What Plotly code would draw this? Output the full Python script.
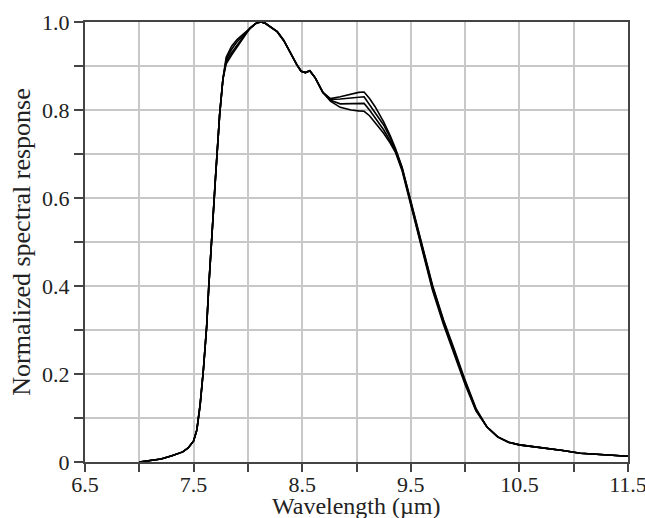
import plotly.graph_objects as go

# wavelength samples (um), shared by all detector curves
wavelength = [7.0, 7.1, 7.2, 7.3, 7.4, 7.45, 7.5, 7.53, 7.56, 7.59, 7.62, 7.64, 7.66,
              7.68, 7.70, 7.72, 7.74, 7.77, 7.80, 7.85, 7.90, 7.96, 8.02, 8.08, 8.12,
              8.16, 8.2, 8.27, 8.33, 8.39, 8.45, 8.49, 8.53, 8.57, 8.62, 8.69, 8.76,
              8.85, 8.95, 9.02, 9.07, 9.12, 9.17, 9.25, 9.31, 9.36, 9.42, 9.5, 9.6,
              9.7, 9.8, 9.9, 10.0, 10.1, 10.2, 10.3, 10.4, 10.5, 10.6, 10.75, 10.9,
              11.06, 11.2, 11.35, 11.5]

response_a = [0.0, 0.003, 0.007, 0.014, 0.023, 0.032, 0.048, 0.073, 0.13, 0.209, 0.307,
              0.40, 0.47, 0.56, 0.64, 0.72, 0.79, 0.87, 0.905, 0.925, 0.943, 0.965,
              0.986, 0.998, 1.0, 0.997, 0.99, 0.978, 0.958, 0.93, 0.903, 0.888, 0.885,
              0.889, 0.873, 0.84, 0.82, 0.806, 0.800, 0.798, 0.797, 0.787, 0.772,
              0.747, 0.725, 0.703, 0.662, 0.586, 0.485, 0.39, 0.313, 0.245, 0.176,
              0.116, 0.08, 0.057, 0.045, 0.039, 0.036, 0.032, 0.026, 0.02, 0.018,
              0.016, 0.013]

response_b = [0.0, 0.003, 0.007, 0.014, 0.023, 0.032, 0.048, 0.073, 0.13, 0.209, 0.307,
              0.40, 0.47, 0.56, 0.64, 0.72, 0.79, 0.87, 0.91, 0.93, 0.948, 0.967,
              0.986, 0.998, 1.0, 0.997, 0.99, 0.978, 0.958, 0.93, 0.903, 0.888, 0.885,
              0.889, 0.873, 0.84, 0.822, 0.814, 0.815, 0.816, 0.815, 0.800, 0.783,
              0.755, 0.730, 0.706, 0.665, 0.59, 0.49, 0.395, 0.318, 0.25, 0.18,
              0.118, 0.08, 0.057, 0.045, 0.039, 0.036, 0.032, 0.026, 0.02, 0.018,
              0.016, 0.013]

response_c = [0.0, 0.003, 0.007, 0.014, 0.023, 0.032, 0.048, 0.073, 0.13, 0.209, 0.307,
              0.40, 0.47, 0.56, 0.64, 0.72, 0.79, 0.87, 0.915, 0.938, 0.955, 0.97,
              0.986, 0.998, 1.0, 0.997, 0.99, 0.978, 0.958, 0.93, 0.903, 0.888, 0.885,
              0.889, 0.873, 0.84, 0.824, 0.825, 0.828, 0.830, 0.830, 0.812, 0.795,
              0.766, 0.737, 0.709, 0.668, 0.593, 0.494, 0.399, 0.321, 0.253, 0.183,
              0.12, 0.08, 0.057, 0.045, 0.039, 0.036, 0.032, 0.026, 0.02, 0.018,
              0.016, 0.013]

response_d = [0.0, 0.003, 0.007, 0.014, 0.023, 0.032, 0.048, 0.073, 0.13, 0.209, 0.307,
              0.40, 0.47, 0.56, 0.64, 0.72, 0.79, 0.87, 0.92, 0.945, 0.96, 0.973,
              0.986, 0.998, 1.0, 0.997, 0.99, 0.978, 0.958, 0.93, 0.903, 0.888, 0.885,
              0.889, 0.873, 0.84, 0.826, 0.830, 0.836, 0.840, 0.841, 0.826, 0.808,
              0.773, 0.742, 0.712, 0.67, 0.596, 0.497, 0.402, 0.324, 0.256, 0.186,
              0.122, 0.08, 0.057, 0.045, 0.039, 0.036, 0.032, 0.026, 0.02, 0.018,
              0.016, 0.013]

x_ticks = [6.5, 7.5, 8.5, 9.5, 10.5, 11.5]
y_ticks = [0, 0.2, 0.4, 0.6, 0.8, 1.0]
y_labels = ["0", "0.2", "0.4", "0.6", "0.8", "1.0"]

FRAME = "#444444"
GRID = "#c8c8c8"

fig = go.Figure()
for resp in (response_a, response_b, response_c, response_d):
    fig.add_scatter(
        x=wavelength,
        y=resp,
        mode="lines",
        line=dict(color="black", width=1.6),
        showlegend=False,
    )

fig.update_layout(
    width=645,
    height=518,
    margin=dict(l=85, r=17, t=22, b=56),
    paper_bgcolor="white",
    plot_bgcolor="white",
    font=dict(family="Liberation Serif, Times New Roman, serif", size=22, color="#222222"),
)
fig.update_xaxes(
    range=[6.5, 11.5],
    tickvals=x_ticks,
    ticktext=[f"{v:g}" for v in x_ticks],
    ticks="outside",
    ticklen=8,
    tickcolor=FRAME,
    tickwidth=1.5,
    ticklabelstandoff=-6,
    ticklabeloverflow="allow",
    showgrid=True,
    gridcolor=GRID,
    gridwidth=1.5,
    minor=dict(dtick=0.5, tick0=6.5, ticks="outside", ticklen=8, tickcolor=FRAME,
               tickwidth=1.5, showgrid=True, gridcolor=GRID, gridwidth=1.5),
    showline=True,
    linecolor=FRAME,
    linewidth=2,
    mirror=True,
    zeroline=False,
    automargin=False,
)
fig.update_yaxes(
    range=[0, 1.0],
    tickvals=y_ticks,
    ticktext=y_labels,
    ticks="outside",
    ticklen=9,
    tickcolor=FRAME,
    tickwidth=1.5,
    showgrid=True,
    gridcolor=GRID,
    gridwidth=1.5,
    minor=dict(dtick=0.1, tick0=0, ticks="outside", ticklen=9, tickcolor=FRAME,
               tickwidth=1.5, showgrid=True, gridcolor=GRID, gridwidth=1.5),
    showline=True,
    linecolor=FRAME,
    linewidth=2,
    mirror=True,
    zeroline=False,
    title=dict(text="Normalized spectral response", standoff=4),
    automargin=False,
)

# x title sits tight under the tick labels, partly past the bottom edge
fig.add_annotation(
    text="Wavelength (µm)",
    x=0.5,
    y=-0.066,
    xref="paper",
    yref="paper",
    xanchor="center",
    yanchor="top",
    showarrow=False,
    font=dict(size=24),
)

# drop the page's default body margin so the figure sits flush in the window
fig.write_html(
    "out.html",
    config={"displayModeBar": False},
    post_script="document.body.style.margin='0';",
)
